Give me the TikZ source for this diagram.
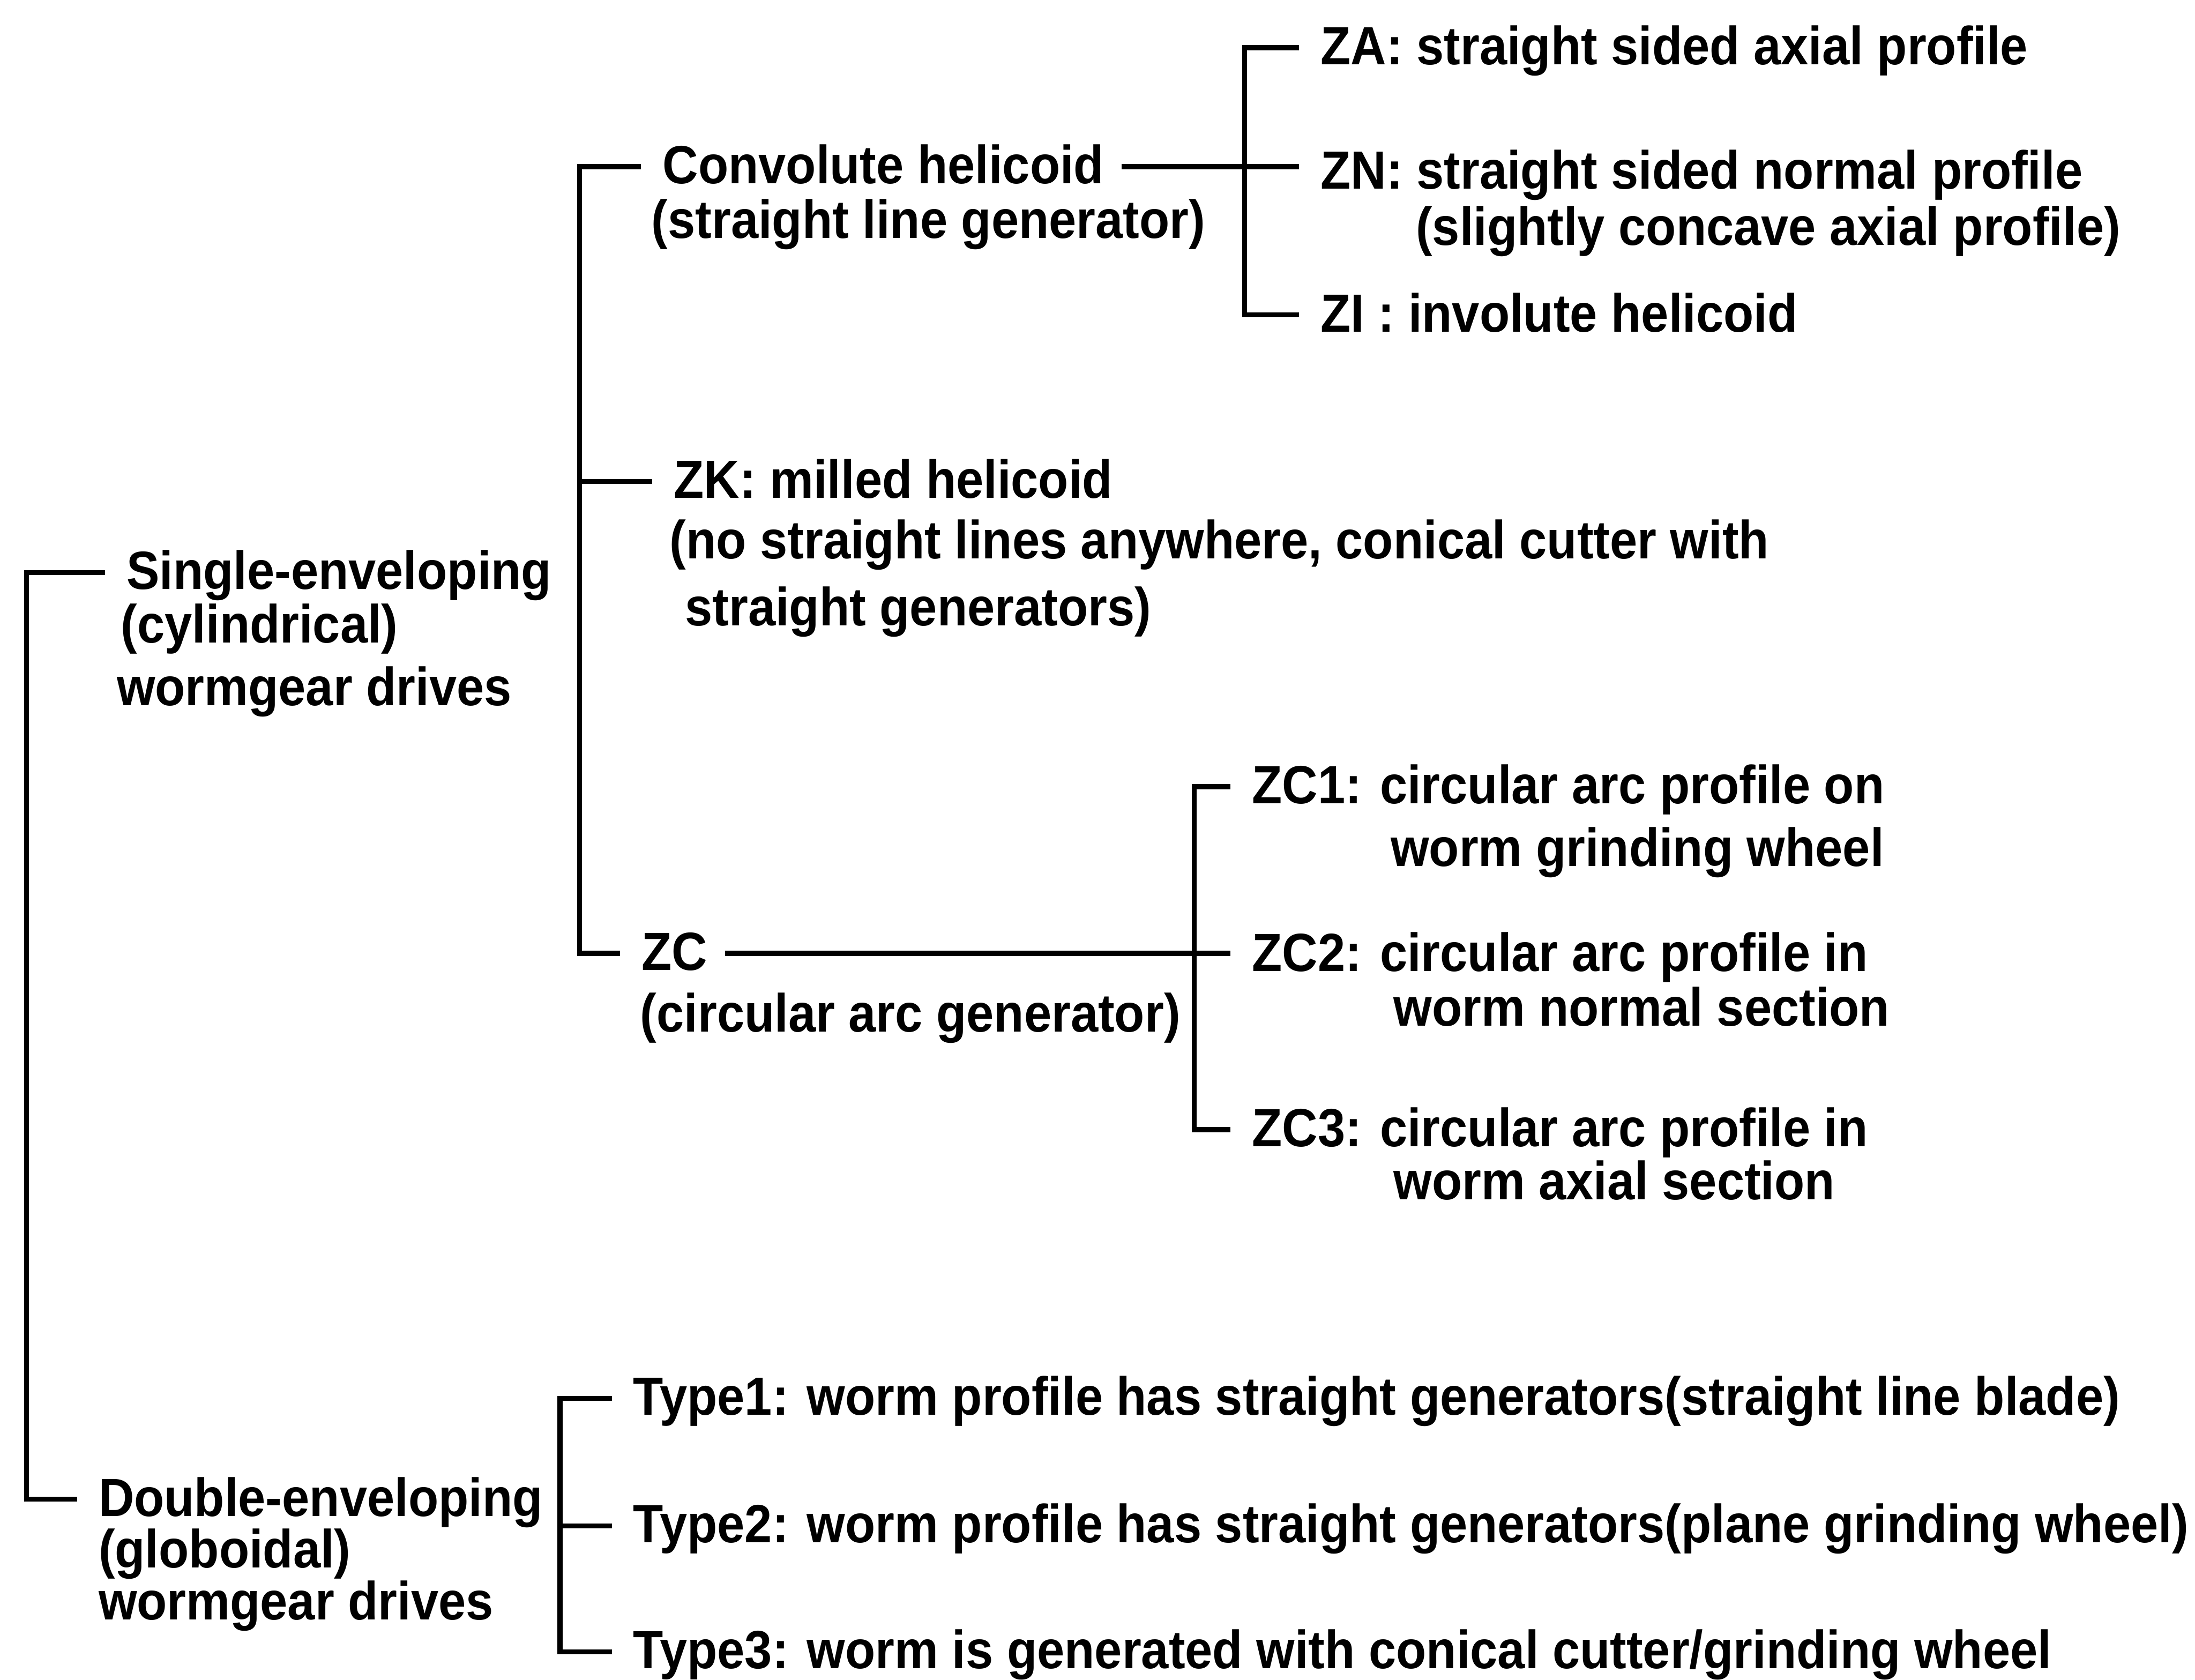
\documentclass[tikz,border=0pt]{standalone}
\usepackage{fontspec}
\newfontfamily\wormfont{Liberation Sans}[FakeStretch=0.917]
\usepackage{tikz}

\tikzset{
  lbl/.style={anchor=base west, inner sep=0pt,
    font=\wormfont\bfseries\fontsize{17}{17}\selectfont},
  link/.style={line width=1.6pt, line join=miter},
}

\begin{document}
\begin{tikzpicture}[x=0.01555cm, y=-0.01555cm]
  %% Frame
  \useasboundingbox (0,0) rectangle (1568,1200);
  \fill[white] (0,0) rectangle (1568,1200);

  %% Bar positions
  \coordinate (rootbar) at (19,0);
  \coordinate (lvbar)   at (414,0);
  \coordinate (convbar) at (889,0);
  \coordinate (zcbar)   at (853,0);
  \coordinate (typebar) at (400,0);

  %% Level 1
  \node[lbl] (single)  at (90,421)  {Single-enveloping};
  \node[lbl] (singlea) at (86,459)  {(cylindrical)};
  \node[lbl] (singleb) at (83,504)  {wormgear drives};
  \node[lbl] (double)  at (70,1083) {Double-enveloping};
  \node[lbl] (doublea) at (70,1120) {(globoidal)};
  \node[lbl] (doubleb) at (70,1157) {wormgear drives};

  %% Level 2 (single-enveloping)
  \node[lbl] (convol)  at (473,131) {Convolute helicoid};
  \node[lbl] (convola) at (465,170) {(straight line generator)};
  \node[lbl] (zk)      at (481,356) {ZK: milled helicoid};
  \node[lbl] (zka)     at (478,399) {(no straight lines anywhere, conical cutter with};
  \node[lbl] (zkb)     at (489,447) {straight generators)};
  \node[lbl] (zc)      at (458,693) {ZC};
  \node[lbl] (zca)     at (457,737) {(circular arc generator)};

  %% Level 3 (convolute helicoid)
  \node[lbl] (za)  at (943,46)   {ZA: straight sided axial profile};
  \node[lbl] (zn)  at (943,135)  {ZN: straight sided normal profile};
  \node[lbl] (zna) at (1011,175) {(slightly concave axial profile)};
  \node[lbl] (zi)  at (943,237)  {ZI : involute helicoid};

  %% Level 3 (ZC)
  \node[lbl] (zcone)    at (894,574) {ZC1: circular arc profile on};
  \node[lbl] (zconea)   at (993,619) {worm grinding wheel};
  \node[lbl] (zctwo)    at (894,694) {ZC2: circular arc profile in};
  \node[lbl] (zctwoa)   at (995,733) {worm normal section};
  \node[lbl] (zcthree)  at (894,819) {ZC3: circular arc profile in};
  \node[lbl] (zcthreea) at (995,857) {worm axial section};

  %% Level 2 (double-enveloping)
  \node[lbl] (typeone)   at (452,1011) {Type1: worm profile has straight generators(straight line blade)};
  \node[lbl] (typetwo)   at (452,1102) {Type2: worm profile has straight generators(plane grinding wheel)};
  \node[lbl] (typethree) at (452,1192) {Type3: worm is generated with conical cutter/grinding wheel};

  %% Tick ends (left of the first line of each label)
  \foreach \n in {single,double,convol,zk,zc,za,zn,zi,zcone,zctwo,zcthree,typeone,typetwo,typethree}
    \coordinate (\n-t) at ([shift={(-15,-12)}]\n.base west);
  \coordinate (convol-e) at ([shift={(12,-12)}]convol.base east);
  \coordinate (zc-e)     at ([shift={(12,-12)}]zc.base east);

  %% Brackets
  \draw[link] (single-t) -- (single-t -| rootbar) |- (double-t);
  \draw[link] (convol-t) -- (convol-t -| lvbar) |- (zc-t);
  \draw[link] (zk-t -| lvbar) -- (zk-t);
  \draw[link] (za-t) -- (za-t -| convbar) |- (zi-t);
  \draw[link] (convol-e) -- (convol-e -| zn-t);
  \draw[link] (zcone-t) -- (zcone-t -| zcbar) |- (zcthree-t);
  \draw[link] (zc-e) -- (zc-e -| zctwo-t);
  \draw[link] (typeone-t) -- (typeone-t -| typebar) |- (typethree-t);
  \draw[link] (typetwo-t -| typebar) -- (typetwo-t);
\end{tikzpicture}
\end{document}
